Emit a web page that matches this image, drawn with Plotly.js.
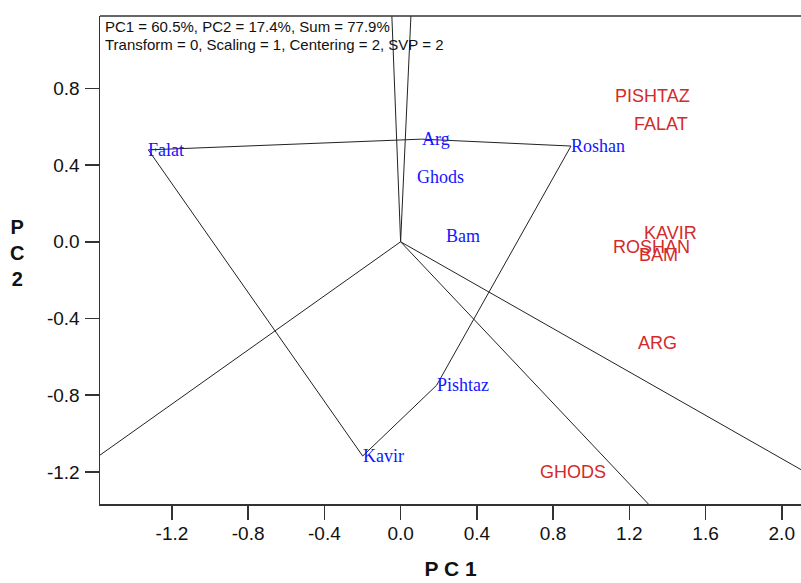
<!DOCTYPE html>
<html><head><meta charset="utf-8">
<script src="https://cdn.plot.ly/plotly-3.0.1.min.js"></script>
<style>html,body{margin:0;padding:0;background:#fff}#chart{width:801px;height:583px}</style>
</head><body><div id="chart"></div>
<script>
// Genotypes (blue labels)
const genotypes = ['Falat', 'Arg', 'Roshan', 'Ghods', 'Bam', 'Pishtaz', 'Kavir'];
const genoPC1 = [-1.324, 0.110, 0.894, 0.085, 0.238, 0.189, -0.199];
const genoPC2 = [0.479, 0.535, 0.499, 0.336, 0.032, -0.748, -1.117];

// Environments (red labels)
const environments = ['PISHTAZ', 'FALAT', 'KAVIR', 'ROSHAN', 'BAM', 'ARG', 'GHODS'];
const envPC1 = [1.3235, 1.3655, 1.418, 1.3167, 1.3535, 1.3456, 0.9037];
const envPC2 = [0.765, 0.621, 0.0527, -0.0203, -0.0636, -0.5224, -1.1934];

// Polygon (convex hull) vertices, in order
const hullGenotypes = ['Falat', 'Arg', 'Roshan', 'Pishtaz', 'Kavir'];

// Axis ticks
const xTickVals = [-1.2, -0.8, -0.4, 0.0, 0.4, 0.8, 1.2, 1.6, 2.0];
const xTickText = ['-1.2', '-0.8', '-0.4', '0.0', '0.4', '0.8', '1.2', '1.6', '2.0'];
const yTickVals = [-1.2, -0.8, -0.4, 0.0, 0.4, 0.8];
const yTickText = ['-1.2', '-0.8', '-0.4', '0.0', '0.4', '0.8'];

const infoLines = ['PC1 = 60.5%, PC2 = 17.4%, Sum = 77.9%',
                   'Transform = 0, Scaling = 1, Centering = 2, SVP = 2'];

const SANS = 'Arial, "Liberation Sans", sans-serif';
const SERIF = '"Times New Roman", "Liberation Serif", serif';
const LINE = '#222';

function pt(name) {
  const i = genotypes.indexOf(name);
  return {x: genoPC1[i], y: genoPC2[i]};
}

// polygon
const polyX = [], polyY = [];
hullGenotypes.concat([hullGenotypes[0]]).forEach(g => { const p = pt(g); polyX.push(p.x); polyY.push(p.y); });

// rays from origin perpendicular to each polygon side
const rayX = [], rayY = [];
const L = 10;
for (let i = 0; i < hullGenotypes.length; i++) {
  const a = pt(hullGenotypes[i]);
  const b = pt(hullGenotypes[(i + 1) % hullGenotypes.length]);
  let px = b.y - a.y, py = -(b.x - a.x);
  const mx = (a.x + b.x) / 2, my = (a.y + b.y) / 2;
  if (px * mx + py * my < 0) { px = -px; py = -py; }
  const n = Math.hypot(px, py);
  rayX.push(0, px / n * L, null);
  rayY.push(0, py / n * L, null);
}

const traces = [
  {x: rayX, y: rayY, mode: 'lines', line: {color: LINE, width: 1}, hoverinfo: 'skip', showlegend: false},
  {x: polyX, y: polyY, mode: 'lines', line: {color: LINE, width: 1}, hoverinfo: 'skip', showlegend: false}
];

const annotations = genotypes.map((g, i) => ({
  x: genoPC1[i], y: genoPC2[i], xref: 'x', yref: 'y', text: g, showarrow: false,
  xanchor: 'left', yanchor: 'middle', xshift: -2,
  font: {family: SERIF, size: 18, color: '#1515ff'}
}));
environments.forEach((e, i) => annotations.push({
  x: envPC1[i], y: envPC2[i], xref: 'x', yref: 'y', text: e, showarrow: false,
  xanchor: 'center', yanchor: 'middle', yshift: -1,
  font: {family: SANS, size: 18, color: '#d42a2a'}
}));
annotations.push({xref: 'paper', yref: 'paper', x: 0.0043, y: 0.978, xanchor: 'left', yanchor: 'middle',
  text: infoLines[0], showarrow: false, font: {family: SANS, size: 15, color: '#111'}});
annotations.push({xref: 'paper', yref: 'paper', x: 0.0043, y: 0.942, xanchor: 'left', yanchor: 'middle',
  text: infoLines[1], showarrow: false, font: {family: SANS, size: 15, color: '#111'}});
annotations.push({xref: 'paper', yref: 'paper', x: -0.1184, y: 0.514, xanchor: 'center', yanchor: 'middle',
  text: '<b>P<br>C<br>2</b>', showarrow: false, font: {family: SANS, size: 20, color: '#111'}});

const axisCommon = {
  showgrid: false, zeroline: false, showline: true, linecolor: '#333', linewidth: 1.5,
  ticks: 'outside', ticklen: 14, tickwidth: 1.5, tickcolor: '#333',
  tickfont: {family: SANS, size: 19, color: '#111'}, fixedrange: true
};

const layout = {
  width: 801, height: 583,
  margin: {l: 100, r: 0, t: 16, b: 79},
  paper_bgcolor: '#fff', plot_bgcolor: '#fff',
  xaxis: Object.assign({}, axisCommon, {
    range: [-1.5775, 2.101], tickmode: 'array', tickvals: xTickVals, ticktext: xTickText,
    ticklabelstandoff: -2,
    title: {text: '<b>P C 1</b>', font: {family: SANS, size: 21, color: '#111'}, standoff: 18}
  }),
  yaxis: Object.assign({}, axisCommon, {
    range: [-1.367, 1.177], tickmode: 'array', tickvals: yTickVals, ticktext: yTickText,
    ticklabelstandoff: 1
  }),
  shapes: [{type: 'line', xref: 'paper', yref: 'paper', x0: 0, x1: 1, y0: 1, y1: 1,
            line: {color: '#333', width: 1.5}}],
  annotations: annotations,
  showlegend: false
};

Plotly.newPlot('chart', traces, layout, {displayModeBar: false, staticPlot: true});
</script></body></html>
